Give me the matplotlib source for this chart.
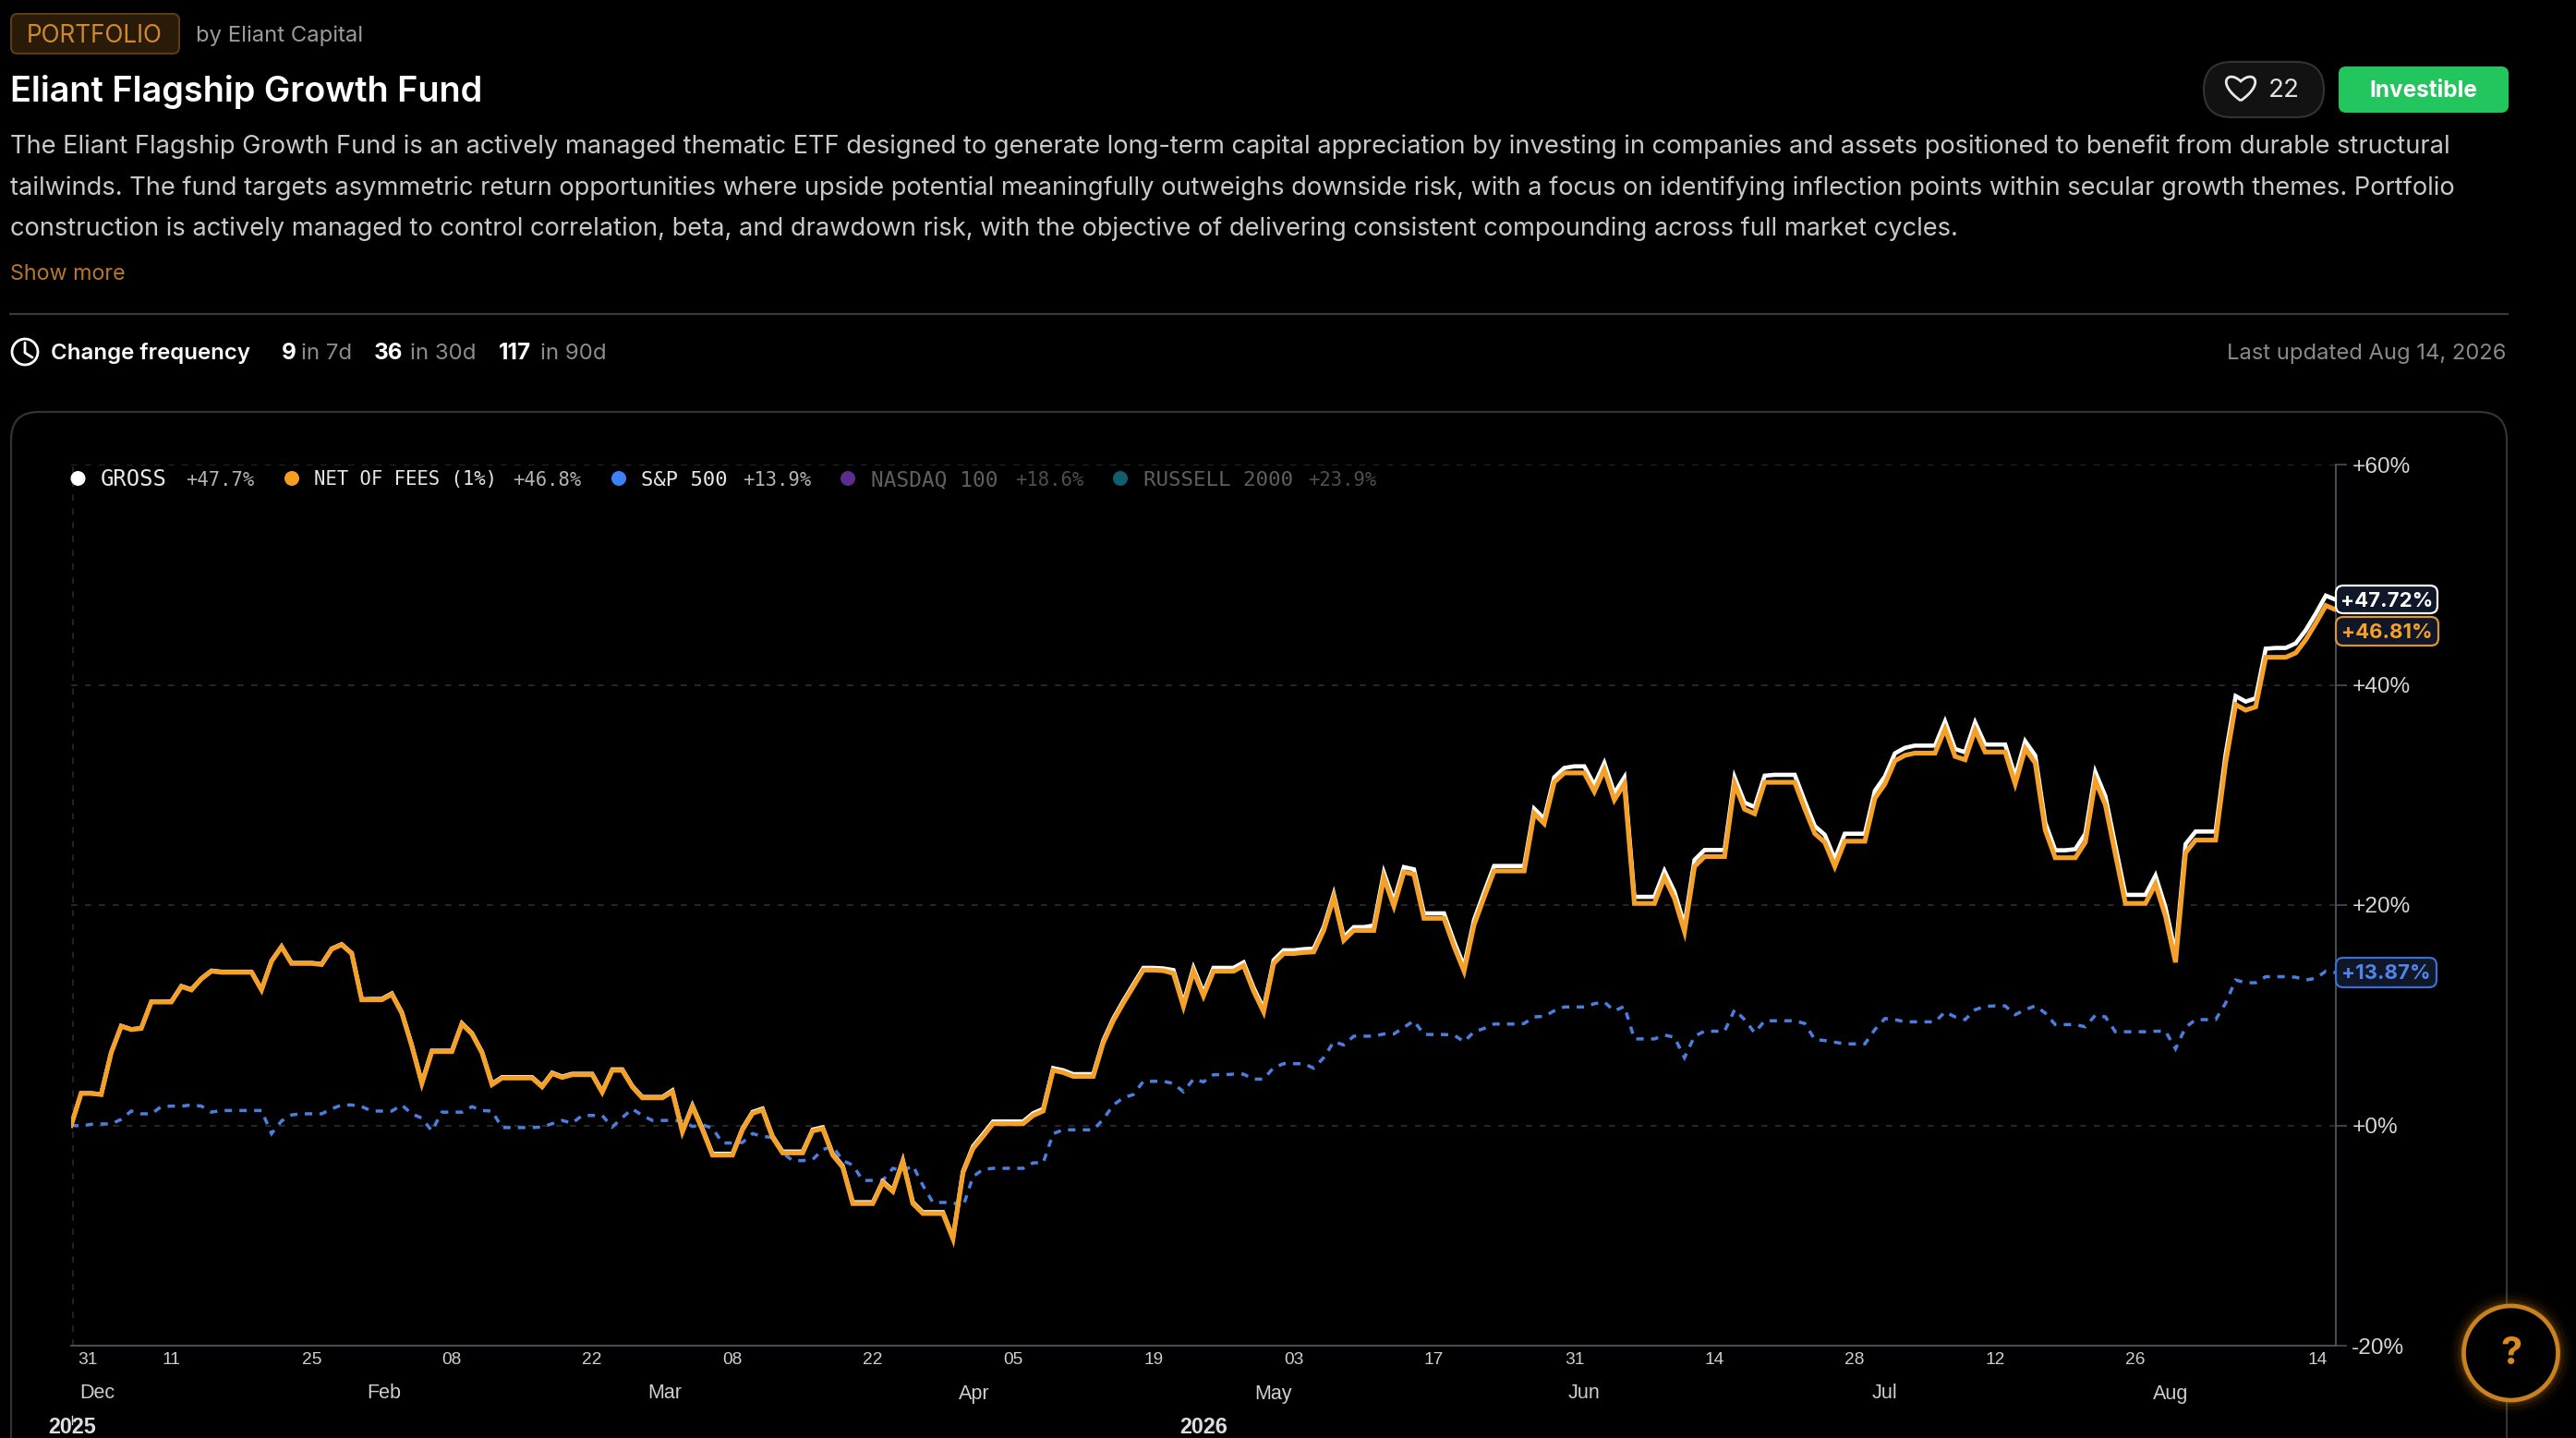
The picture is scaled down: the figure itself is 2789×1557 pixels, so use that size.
import numpy as np
import matplotlib
matplotlib.use("Agg")
import matplotlib.pyplot as plt
from matplotlib.patches import FancyBboxPatch, Circle
from matplotlib.path import Path
from matplotlib.patches import PathPatch

W, H = 2789, 1557

net = [0, 2.9, 2.9, 2.8, 6.6, 9.0, 8.7, 8.8, 11.2, 11.2,
       11.2, 12.6, 12.3, 13.3, 14.0, 13.9, 13.9, 13.9, 13.9, 12.3,
       14.9, 16.2, 14.7, 14.7, 14.7, 14.6, 16.0, 16.4, 15.6, 11.4,
       11.4, 11.4, 11.9, 10.2, 7.2, 3.8, 6.7, 6.7, 6.7, 9.2,
       8.3, 6.6, 3.7, 4.3, 4.3, 4.3, 4.3, 3.5, 4.7, 4.35,
       4.6, 4.6, 4.6, 3.0, 5.0, 5.0, 3.5, 2.5, 2.5, 2.5,
       3.05, -0.6, 1.7, -0.4, -2.7, -2.7, -2.7, -0.4, 1.1, 1.4,
       -1.1, -2.5, -2.5, -2.5, -0.5, -0.3, -2.7, -3.8, -7.1, -7.1,
       -7.1, -5.2, -6.0, -3.3, -7.1, -8.0, -8.0, -8.0, -10.3, -4.3,
       -2.1, -1.0, 0.15, 0.15, 0.15, 0.15, 0.9, 1.3, 5.0, 4.8,
       4.45, 4.45, 4.45, 7.5, 9.5, 11.1, 12.6, 14.1, 14.1, 14.05,
       13.8, 10.8, 14.0, 11.75, 14.0, 14.0, 14.0, 14.5, 12.2, 10.3,
       14.7, 15.6, 15.6, 15.7, 15.75, 17.7, 20.7, 16.8, 17.7, 17.7,
       17.7, 22.5, 19.9, 23.0, 22.8, 18.8, 18.8, 18.8, 16.25, 14.0,
       18.2, 20.7, 23.1, 23.1, 23.1, 23.1, 28.3, 27.4, 31.15, 32.0,
       32.0, 32.0, 30.3, 32.3, 29.55, 31.0, 20.15, 20.15, 20.15, 22.5,
       20.6, 17.6, 23.5, 24.4, 24.4, 24.4, 31.0, 28.7, 28.3, 31.15,
       31.15, 31.15, 31.15, 28.75, 26.5, 25.7, 23.5, 25.8, 25.8, 25.8,
       29.7, 31.0, 33.1, 33.6, 33.8, 33.8, 33.8, 36.0, 33.5, 33.2,
       35.9, 33.9, 33.9, 33.9, 31.0, 34.2, 32.9, 26.8, 24.3, 24.3,
       24.3, 25.7, 31.3, 29.1, 24.6, 20.15, 20.15, 20.15, 21.9, 19.0,
       14.8, 24.75, 25.9, 25.9, 25.9, 32.9, 38.2, 37.7, 38.0, 42.5,
       42.5, 42.5, 42.9, 44.1, 45.6, 47.2, 46.81]

gross = [0, 2.92, 2.92, 2.82, 6.62, 9.03, 8.73, 8.83, 11.23, 11.23,
         11.25, 12.65, 12.35, 13.35, 14.05, 13.95, 13.95, 13.95, 13.95, 12.35,
         14.95, 16.25, 14.75, 14.75, 14.75, 14.65, 16.05, 16.45, 15.65, 11.45,
         11.48, 11.48, 11.98, 10.28, 7.28, 3.88, 6.78, 6.78, 6.78, 9.28,
         8.38, 6.68, 3.78, 4.38, 4.38, 4.38, 4.38, 3.58, 4.78, 4.43,
         4.68, 4.68, 4.68, 3.08, 5.08, 5.08, 3.58, 2.58, 2.58, 2.58,
         3.17, -0.48, 1.82, -0.28, -2.58, -2.58, -2.58, -0.28, 1.22, 1.52,
         -0.98, -2.38, -2.38, -2.38, -0.38, -0.18, -2.58, -3.68, -6.98, -6.98,
         -6.98, -5.08, -5.88, -3.18, -6.98, -7.88, -7.88, -7.88, -10.18, -4.18,
         -1.9, -0.8, 0.35, 0.35, 0.35, 0.35, 1.1, 1.5, 5.2, 5.0,
         4.65, 4.65, 4.65, 7.7, 9.7, 11.3, 12.8, 14.3, 14.3, 14.25,
         14.1, 11.1, 14.3, 12.05, 14.3, 14.3, 14.3, 14.8, 12.5, 10.6,
         15.0, 15.9, 15.9, 16.0, 16.05, 18.0, 21.0, 17.1, 18.0, 18.0,
         18.15, 22.95, 20.35, 23.45, 23.25, 19.25, 19.25, 19.25, 16.7, 14.45,
         18.65, 21.15, 23.55, 23.55, 23.55, 23.55, 28.75, 27.85, 31.6, 32.45,
         32.6, 32.6, 30.9, 32.9, 30.15, 31.6, 20.75, 20.75, 20.75, 23.1,
         21.2, 18.2, 24.1, 25.0, 25.0, 25.0, 31.6, 29.3, 28.9, 31.75,
         31.83, 31.83, 31.83, 29.43, 27.18, 26.38, 24.18, 26.48, 26.48, 26.48,
         30.38, 31.68, 33.78, 34.28, 34.48, 34.48, 34.48, 36.68, 34.18, 33.88,
         36.58, 34.58, 34.58, 34.58, 31.68, 34.88, 33.58, 27.48, 24.98, 24.98,
         25.08, 26.48, 32.08, 29.88, 25.38, 20.93, 20.93, 20.93, 22.68, 19.78,
         15.58, 25.53, 26.68, 26.68, 26.68, 33.68, 38.98, 38.48, 38.78, 43.28,
         43.35, 43.35, 43.77, 44.97, 46.47, 48.1, 47.72]

sp500 = [0, -0.05, 0.1, 0.13, 0.13, 0.55, 1.3, 1.05, 1.05, 1.7,
         1.75, 1.75, 1.85, 1.75, 1.2, 1.35, 1.35, 1.35, 1.35, 1.35,
         -0.75, 0.4, 0.95, 1.05, 1.05, 1.05, 1.5, 1.85, 1.85, 1.7,
         1.3, 1.3, 1.3, 1.85, 1.05, 0.65, -0.5, 1.2, 1.2, 1.2,
         1.7, 1.35, 1.3, -0.2, -0.2, -0.2, -0.2, -0.15, 0.15, 0.45,
         0.2, 0.9, 0.9, 0.9, -0.15, 0.7, 1.5, 0.9, 0.45, 0.45,
         0.45, 0.4, -0.1, 0.05, -0.25, -1.6, -1.6, -1.55, -0.75, -1.0,
         -1.1, -2.5, -3.2, -3.2, -3.1, -2.2, -1.9, -3.2, -3.6, -5.0,
         -5.0, -5.0, -3.9, -4.15, -3.65, -5.45, -7.0, -7.0, -7.0, -7.4,
         -4.65, -4.0, -3.9, -3.9, -3.9, -3.9, -3.4, -3.4, -0.75, -0.4,
         -0.4, -0.4, -0.4, 0.55, 1.85, 2.5, 2.8, 4.0, 4.0, 4.0,
         3.8, 3.05, 4.2, 3.95, 4.6, 4.6, 4.65, 4.65, 4.2, 4.2,
         5.25, 5.6, 5.6, 5.6, 5.2, 6.15, 7.6, 7.3, 8.1, 8.1,
         8.1, 8.3, 8.3, 8.9, 9.5, 8.25, 8.25, 8.25, 8.2, 7.6,
         8.5, 8.8, 9.2, 9.2, 9.2, 9.25, 9.85, 9.9, 10.4, 10.75,
         10.75, 10.75, 11.05, 11.2, 10.4, 10.8, 7.85, 7.85, 7.85, 8.2,
         8.0, 6.15, 8.1, 8.55, 8.55, 8.55, 10.5, 9.6, 8.4, 9.5,
         9.5, 9.5, 9.5, 9.25, 7.8, 7.7, 7.55, 7.4, 7.4, 7.4,
         8.7, 9.7, 9.6, 9.4, 9.4, 9.4, 9.4, 10.3, 9.85, 9.6,
         10.5, 10.8, 10.85, 10.85, 10.05, 10.5, 10.85, 10.2, 9.15, 9.15,
         9.15, 8.95, 10.0, 9.85, 8.5, 8.5, 8.5, 8.5, 8.55, 8.55,
         6.95, 8.9, 9.6, 9.6, 9.6, 11.1, 13.2, 12.95, 12.95, 13.5,
         13.5, 13.5, 13.45, 13.2, 13.35, 14.0, 13.87]

day_ticks = [1.66, 10, 24, 38, 52, 66, 80, 94, 108, 122, 136, 150, 164, 178, 192, 206, 224.2]
day_labels = ["31", "11", "25", "08", "22", "08", "22", "05", "19", "03", "17", "31", "14", "28", "12", "26", "14"]
month_days = [2.6, 31.2, 59.2, 90.1, 120, 151, 181, 209.5]
month_labels = ["Dec", "Feb", "Mar", "Apr", "May", "Jun", "Jul", "Aug"]
year_days = [0.1, 113]
year_labels = ["2025", "2026"]
y_ticks = [-20, 0, 20, 40, 60]
y_labels = ["-20%", "+0%", "+20%", "+40%", "+60%"]

legend_names = ["GROSS", "NET OF FEES (1%)", "S&P 500", "NASDAQ 100", "RUSSELL 2000"]
legend_values = ["+47.7%", "+46.8%", "+13.9%", "+18.6%", "+23.9%"]
legend_colors = ["#ffffff", "#f59e1f", "#3b82f6", "#5b2d8e", "#0f5f6e"]
legend_dot_x = [84.5, 316, 670, 918, 1213]
legend_name_x = [109, 340, 694, 943, 1238]
legend_value_x = [201, 555, 804, 1099, 1416]
legend_name_size = [17.2, 14.9, 15.9, 16.4, 16.2]
legend_dim = [False, False, False, True, True]

body_lines = [
    "The Eliant Flagship Growth Fund is an actively managed thematic ETF designed to generate long-term capital appreciation by investing in companies and assets positioned to benefit from durable structural",
    "tailwinds. The fund targets asymmetric return opportunities where upside potential meaningfully outweighs downside risk, with a focus on identifying inflection points within secular growth themes. Portfolio",
    "construction is actively managed to control correlation, beta, and drawdown risk, with the objective of delivering consistent compounding across full market cycles.",
]

UI = "Inter"
AX = "Liberation Sans"
MONO = "DejaVu Sans Mono"

fig = plt.figure(figsize=(W / 100, H / 100), dpi=100, facecolor="#000000")

# page furniture in pixel coordinates
ui = fig.add_axes([0, 0, 1, 1], zorder=0)
ui.set_xlim(0, W)
ui.set_ylim(H, 0)
ui.axis("off")


def box(a, x0, y0, x1, y1, r, fc, ec, lw=1.5, z=1):
    a.add_patch(FancyBboxPatch((x0 + r, y0 + r), x1 - x0 - 2 * r, y1 - y0 - 2 * r,
                               boxstyle=f"round,pad={r},rounding_size={r}",
                               fc=fc, ec=ec, lw=lw, zorder=z))


box(ui, 12, 15, 194, 58, 7, "#2a1a08", "#5a3c17")
ui.text(102, 38.5, "PORTFOLIO", color="#d08a2e", fontsize=18.8, family=UI, ha="center", va="center")
ui.text(212, 38.5, "by Eliant Capital", color="#9b9b9b", fontsize=17.2, family=UI, va="center")
ui.text(11, 99, "Eliant Flagship Growth Fund", color="#ffffff", fontsize=27.3, family=UI, weight="semibold", va="center")

for y, line in zip([159, 203.5, 247.5], body_lines):
    ui.text(11, y, line, color="#c9c9c9", fontsize=19.63, family=UI, va="center")
ui.text(11, 296.5, "Show more", color="#b9772a", fontsize=16.8, family=UI, va="center")
ui.plot([11, 2715], [340, 340], color="#3a3a3a", lw=1.6)

# clock icon
ui.add_patch(Circle((27, 381), 14, fc="none", ec="#ffffff", lw=2))
ui.plot([27, 27, 35], [371, 382, 387], color="#ffffff", lw=2, solid_capstyle="round")
ui.text(55, 382.5, "Change frequency", color="#ffffff", fontsize=17.3, family=UI, weight="semibold", va="center")
for x_n, n, x_t, t in [(305, "9", 326, "in 7d"), (405, "36", 444, "in 30d"), (540, "117", 585, "in 90d")]:
    ui.text(x_n, 382.5, n, color="#ffffff", fontsize=17.5, family=UI, weight="bold", va="center")
    ui.text(x_t, 382.5, t, color="#8c8c8c", fontsize=17.3, family=UI, va="center")
ui.text(2713, 382.5, "Last updated Aug 14, 2026", color="#8a8a8a", fontsize=17.1, family=UI, ha="right", va="center")

# like pill and status badge
box(ui, 2386, 67, 2516, 127, 30, "#121212", "#333333")
heart = Path([(2426, 109), (2399, 90), (2412, 75), (2426, 88),
              (2440, 75), (2453, 90), (2426, 109)],
             [Path.MOVETO] + [Path.CURVE4] * 6)
ui.add_patch(PathPatch(heart, fc="none", ec="#e8e8e8", lw=2))
ui.text(2473, 98, "22", color="#e0e0e0", fontsize=20, family=UI, ha="center", va="center")
box(ui, 2533, 73, 2715, 121, 7, "#22c55e", "#22c55e")
ui.text(2624, 98, "Investible", color="#ffffff", fontsize=17.5, family=UI, weight="bold", ha="center", va="center")

# chart card runs off the bottom of the page
box(ui, 12, 446, 2714, H + 60, 30, "#000000", "#333333", lw=1.6)

# chart
ax = fig.add_axes([77 / W, (H - 1457) / H, (2529 - 77) / W, 954 / H], zorder=1, facecolor="none")
days = np.arange(len(net))
ax.set_xlim(0, 226)
ax.set_ylim(-20, 60)
ax.plot(days, sp500, color="#4a7fe0", lw=2.5, dashes=(2.3, 2.3), dash_joinstyle="miter", zorder=3)
ax.plot(days, gross, color="#ffffff", lw=3.3, solid_joinstyle="miter", zorder=4)
ax.plot(days, net, color="#f5a028", lw=3.7, solid_joinstyle="miter", zorder=5)

ax.set_yticks(y_ticks, y_labels)
ax.yaxis.tick_right()
ax.tick_params(axis="y", length=8.5, width=1.2, color="#4a4f5a", labelcolor="#d6d6d6", labelsize=17.6, pad=4)
for t in ax.get_yticklabels():
    t.set_family(AX)
ax.set_xticks(day_ticks, day_labels)
ax.tick_params(axis="x", length=0, labelcolor="#cfcfcf", labelsize=13.8, pad=5)
for t in ax.get_xticklabels():
    t.set_family(AX)
ax.grid(axis="y", color="#2e2e2e", lw=1.2, dashes=(4, 5))
ax.axvline(0.2, color="#2a2a2a", lw=1.2, dashes=(4, 5))
for s in ["top", "left"]:
    ax.spines[s].set_visible(False)
for s in ["right", "bottom"]:
    ax.spines[s].set_color("#4a4f5a")
    ax.spines[s].set_linewidth(1.4)

trans = ax.get_xaxis_transform()
for d, m in zip(month_days, month_labels):
    ax.text(d, -(1509 - 1457) / 954, m, transform=trans, color="#cfcfcf", fontsize=15.5, family=AX, ha="center", va="center")
for d, yr in zip(year_days, year_labels):
    ax.text(d, -(1546 - 1457) / 954, yr, transform=trans, color="#dedede", fontsize=16.8, family=AX, weight="bold", ha="center", va="center", clip_on=False)
ax.plot([0.1, 0.1], [-(1533 - 1457) / 954, -(1542 - 1457) / 954], transform=trans, color="#dedede", lw=1, clip_on=False)

# legend and end-of-line badges sit above the plot
top = fig.add_axes([0, 0, 1, 1], zorder=2, facecolor="none")
top.set_xlim(0, W)
top.set_ylim(H, 0)
top.axis("off")

for i, name in enumerate(legend_names):
    name_color = "#5f5f5f" if legend_dim[i] else "#e6e6e6"
    value_color = "#4f4f4f" if legend_dim[i] else "#b5b5b5"
    top.add_patch(Circle((legend_dot_x[i], 518), 8, fc=legend_colors[i], ec="none"))
    top.text(legend_name_x[i], 519.5, name, color=name_color, fontsize=legend_name_size[i], family=MONO, va="center")
    top.text(legend_value_x[i], 519.5, legend_values[i], color=value_color, fontsize=14.8, family=MONO, va="center")

end_labels = ["+47.72%", "+46.81%", "+13.87%"]
end_y = [(634, 664), (668, 699), (1037, 1069)]
end_edge = ["#ffffff", "#d9953a", "#3b6fd0"]
end_text = ["#ffffff", "#f5a028", "#4f86e8"]
end_x1 = [2639, 2640, 2638]
for lab, (y0, y1), ec, tc, x1 in zip(end_labels, end_y, end_edge, end_text, end_x1):
    box(top, 2529, y0, x1, y1, 8, "#0f1729", ec, lw=1.6, z=3)
    top.text((2529 + x1) / 2, (y0 + y1) / 2 + 1.5, lab, color=tc, fontsize=16, family=UI, weight="bold", ha="center", va="center", zorder=4)

# help button with its glow
for r, a in [(66, 0.04), (62, 0.06), (58, 0.10), (55, 0.16)]:
    top.add_patch(Circle((2718.5, 1465), r, fc="#d9861c", ec="none", alpha=a, zorder=5))
top.add_patch(Circle((2718.5, 1465), 51, fc="#000000", ec="#c9821f", lw=3.4, zorder=6))
top.text(2718.5, 1466, "?", color="#d98a22", fontsize=30, family=UI, weight="bold", ha="center", va="center", zorder=7)

fig.savefig("out.png", dpi=100, facecolor="#000000")
